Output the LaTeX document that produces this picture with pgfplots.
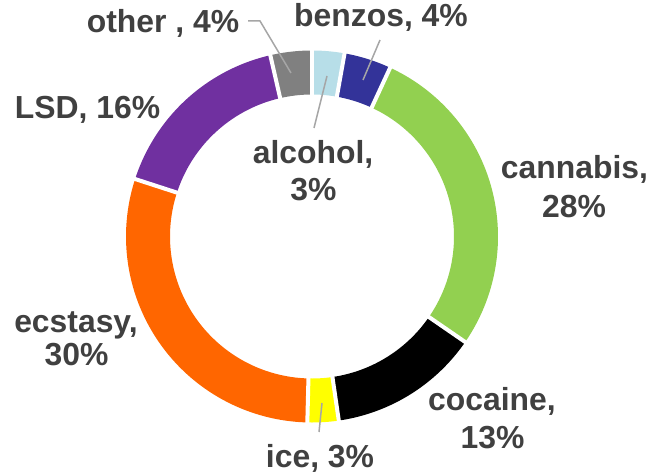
\documentclass[border=0pt]{standalone}
\usepackage{fontspec}
\setmainfont{Liberation Sans}
\usepackage{pgfplots}
\usepackage{pgfplotstable}
\pgfplotsset{compat=1.18}
\definecolor{cAlc}{HTML}{B7DEE8}
\definecolor{cBen}{HTML}{333399}
\definecolor{cCan}{HTML}{92D050}
\definecolor{cCoc}{HTML}{000000}
\definecolor{cIce}{HTML}{FFFF00}
\definecolor{cEcs}{HTML}{FF6600}
\definecolor{cLSD}{HTML}{7030A0}
\definecolor{cOth}{HTML}{808080}
\definecolor{txt}{HTML}{404040}
\definecolor{lead}{HTML}{A6A6A6}

\pgfplotstableread{
drug value col
alcohol 2.8 cAlc
benzos 4.1 cBen
cannabis 27.7 cCan
cocaine 13.1 cCoc
ice 2.7 cIce
ecstasy 29.6 cEcs
LSD 16.4 cLSD
other 3.6 cOth
}\drugs

\begin{document}
\begin{tikzpicture}[lbl/.style={font=\fontsize{32}{38}\selectfont\bfseries, text=txt, inner sep=0pt, anchor=base}]
\begin{axis}[scale only axis, width=654bp, height=476bp,
  xmin=0, xmax=654, ymin=0, ymax=476, y dir=reverse,
  hide axis, clip=false]
\def\cum{0}
\pgfplotsforeachungrouped \i in {0,...,7}{%
  \pgfplotstablegetelem{\i}{value}\of\drugs \let\val\pgfplotsretval
  \pgfplotstablegetelem{\i}{col}\of\drugs \let\segcol\pgfplotsretval
  \pgfmathsetmacro\angA{\cum*3.6}%
  \pgfmathsetmacro\angB{(\cum+\val)*3.6}%
  \edef\doplot{\noexpand\addplot[draw=\segcol, line width=44bp, line cap=butt, line join=round, domain=\angA:\angB, samples=80] ({312+164*sin(x)},{236.5-164*cos(x)});}%
  \doplot
  \pgfmathsetmacro\cum{\cum+\val}%
}
\def\cum{0}
\pgfplotsforeachungrouped \i in {0,...,7}{%
  \pgfplotstablegetelem{\i}{value}\of\drugs \let\val\pgfplotsretval
  \pgfmathsetmacro\angA{\cum*3.6}%
  \edef\doplot{\noexpand\addplot[draw=white, line width=4bp, domain=136:192, samples=2] ({312+x*sin(\angA)},{236.5-x*cos(\angA)});}%
  \doplot
  \pgfmathsetmacro\cum{\cum+\val}%
}
% leader lines
\addplot[lead, line width=1.5bp] coordinates {(248,21) (260,21) (291,73)};
\addplot[lead, line width=1.5bp] coordinates {(380,40) (363,80)};
\addplot[lead, line width=1.5bp] coordinates {(327,76) (314,128)};
\addplot[lead, line width=1.5bp] coordinates {(322,403) (319,432)};
% labels
\node[lbl] at (axis cs:163,33) {other , 4\%};
\node[lbl] at (axis cs:87.5,118) {LSD, 16\%};
\node[lbl] at (axis cs:381,27) {benzos, 4\%};
\node[lbl] at (axis cs:313,163) {alcohol,};
\node[lbl] at (axis cs:313.5,200) {3\%};
\node[lbl] at (axis cs:574.5,178) {cannabis,};
\node[lbl] at (axis cs:574,217) {28\%};
\node[lbl] at (axis cs:76,332) {ecstasy,};
\node[lbl] at (axis cs:76.5,365) {30\%};
\node[lbl] at (axis cs:492,410) {cocaine,};
\node[lbl] at (axis cs:492.5,448) {13\%};
\node[lbl] at (axis cs:320,467) {ice, 3\%};
\end{axis}
\pgfresetboundingbox
\useasboundingbox (current axis.south west) rectangle (current axis.north east);
\end{tikzpicture}
\end{document}
